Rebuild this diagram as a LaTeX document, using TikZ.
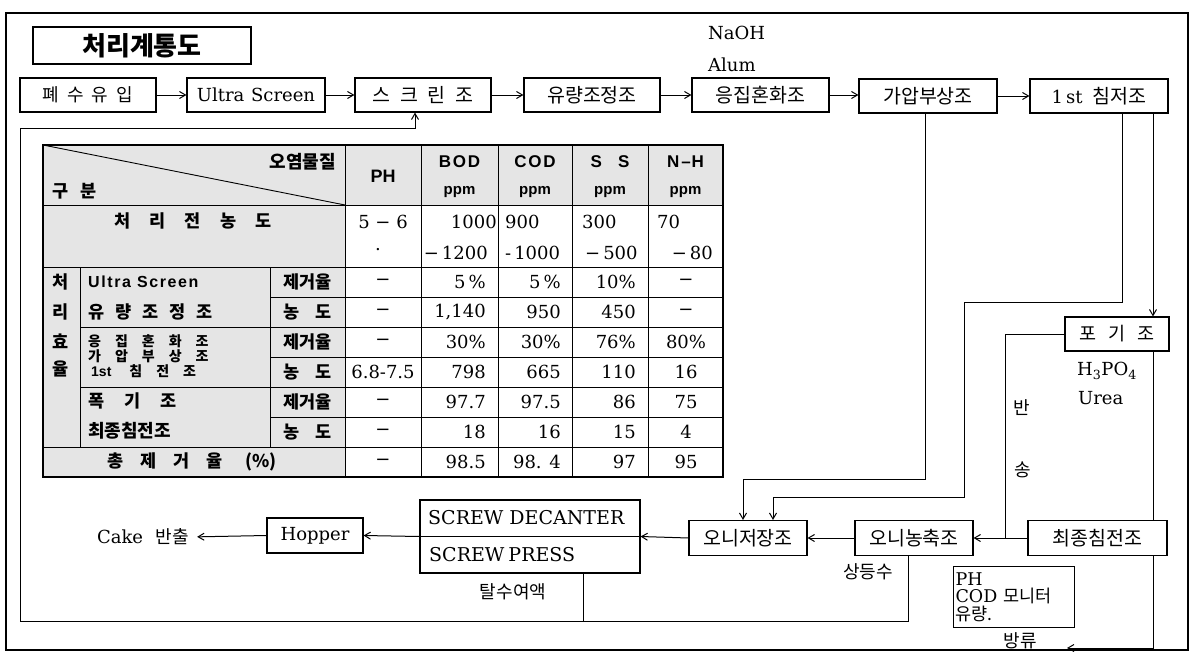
\documentclass[tikz,border=0pt]{standalone}
\usepackage{fontspec}
\usetikzlibrary{arrows.meta,calc}
\setmainfont{DejaVu Serif}
\newfontfamily\kr{Noto Sans CJK KR}
\newfontfamily\sfb{Liberation Sans}[LetterSpace=10]
\newfontfamily\sfn{Liberation Sans}
\newcommand\fsz[1]{\fontsize{#1}{#1}\selectfont}
\begin{document}
\begin{tikzpicture}[x=1pt,y=-1pt,
  box/.style={draw,line width=1.1pt,inner sep=0pt,minimum height=34pt,font=\kr\fsz{19.5}},
  arr/.style={line width=1pt,-{Straight Barb[length=6pt,width=7pt]}},
  ln/.style={line width=1pt},
  lab/.style={inner sep=0pt,font=\fsz{18}},
  klab/.style={inner sep=0pt,font=\kr\fsz{18}},
  tk/.style={inner sep=0pt,font=\kr\bfseries\fsz{17.5}},
  tv/.style={inner sep=0pt,font=\fsz{18}},
  tl/.style={line width=0.9pt},
]
\useasboundingbox (0,0) rectangle (1195,653);
\draw[line width=1.2pt] (6,13) rectangle (1188,650);

% ---------- title ----------
\node[draw,line width=1.3pt,minimum width=218pt,minimum height=37pt] (title) at (142,45.5) {\kr\bfseries\fsz{26}처리계통도};

% ---------- top row ----------
\node[box,minimum width=136pt,font=\kr\fsz{18}] (a1) at (88,95) {폐\hspace{8pt}수\hspace{8pt}유\hspace{8pt}입};
\node[box,minimum width=138pt,font=\fsz{18}] (a2) at (256,95) {Ultra\hspace{1pt} Screen};
\node[box,minimum width=136pt] (a3) at (423,95) {스\hspace{10pt}크\hspace{10pt}린\hspace{10pt}조};
\node[box,minimum width=136pt] (a4) at (592,95) {유량조정조};
\node[box,minimum width=137pt] (a5) at (760.5,95) {응집혼화조};
\node[box,minimum width=138pt] (a6) at (928,96) {가압부상조};
\node[box,minimum width=138pt] (a7) at (1099,96) {\rmfamily\fsz{18}1\,st {\kr\fsz{19.5} 침저조}};
\draw[arr] (a1) -- (a2);
\draw[arr] (a2) -- (a3);
\draw[arr] (a3) -- (a4);
\draw[arr] (a4) -- (a5);
\draw[arr] (a5.east) -- (a6.west |- a5.east);
\draw[arr] (a6) -- (a7);
\node[lab,anchor=west] (naoh) at (708,33) {NaOH};
\node[lab,anchor=west] (alum) at (708,65) {Alum};

% ---------- right side ----------
\node[box,minimum width=104pt,minimum height=34pt,font=\kr\fsz{18.5}] (pg) at (1117,334) {포\hspace{12pt}기\hspace{12pt}조};
\node[box,minimum width=139pt,minimum height=35pt] (fin) at (1097.5,538) {최종침전조};
\node[box,minimum width=118pt,minimum height=35pt] (thick) at (914,538) {오니농축조};
\node[box,minimum width=118pt,minimum height=35pt] (oj) at (748,538) {오니저장조};
\node[draw,line width=1.1pt,minimum width=220pt,minimum height=73pt,inner sep=0pt] (sp) at (530,536.5) {};
\draw[line width=1.1pt] (sp.west) -- (sp.east);
\node[lab,anchor=west,font=\fsz{19}] (sd) at (428,518) {SCREW DECANTER};
\node[lab,anchor=west,font=\fsz{19}] (sr) at (429,555) {SCREW\hspace{-2pt} PRESS};
\node[box,minimum width=96pt,minimum height=35pt,font=\fsz{18}] (hop) at (315,535.5) {Hopper};
\node[lab,font=\fsz{18}] (cake) at (143,537) {Cake\hspace{3pt} {\kr\fsz{18} 반출}};
\node[draw,line width=1.1pt,anchor=north west,minimum width=121pt,minimum height=61pt,inner sep=1.5pt,text width=117pt,align=left,font=\fontsize{17.5}{17.5}\selectfont] (mon) at (953,566) {PH\\COD {\kr 모니터}\\{\kr 유량.}};

\node[lab,anchor=west] (h3po4) at (1077,371) {H\textsubscript{3}PO\textsubscript{4}};
\node[lab,anchor=west] (urea) at (1078,398) {Urea};
\node[klab] (ban) at (1022,408) {반};
\node[klab] (song) at (1023,470) {송};
\node[klab] (sang) at (868,572) {상등수};
\node[klab] (tal) at (513,592) {탈수여액};
\node[klab] (bang) at (1020,641) {방류};

% connectors
\coordinate (r1) at (1122,302);
\coordinate (r2) at (964,302);
\coordinate (r3) at (964,497);
\coordinate (r4) at (773,497);
\draw[arr] (a7.south -| r1) -- (r1) -- (r2) -- (r3) -- (r4) -- (oj.north -| r4);
\coordinate (s1) at (925,479);
\coordinate (s2) at (743,479);
\draw[arr] (a6.south -| s1) -- (s1) -- (s2) -- (oj.north -| s2);
\coordinate (b1) at (1153,200);
\draw[arr] (a7.south -| b1) -- (pg.north -| b1);
\draw[ln] (pg.south -| b1) -- (fin.north -| b1);
\coordinate (rt1) at (1005,334);
\coordinate (rt2) at (1005,538);
\draw[ln] (pg.west) -- (rt1) -- (rt2);
\draw[arr] (fin.west) -- (thick.east);
\draw[arr] (thick.west) -- (oj.east);
\draw[arr] (oj.west) -- (sp.east);
\draw[arr] (sp.west) -- (hop.east);
\draw[arr,shorten >=8pt] (hop.west) -- (cake.east);
\coordinate (d1) at (1153,648);
\coordinate (d2) at (1067,648);
\draw[arr] (fin.south -| d1) -- (d1) -- (d2);
\coordinate (c0) at (20,621);
\coordinate (c1) at (20,128);
\coordinate (c2) at (415,128);
\coordinate (j1) at (583,621);
\coordinate (j2) at (908,621);
\draw[arr] (sp.south -| j1) -- (j1) -- (c0) -- (c1) -- (c2) -- (a3.south -| c2);
\draw[ln] (thick.south -| j2) -- (j2) -- (j1);

% ---------- table ----------
\fill[gray!20] (43,145) rectangle (723,205);
\fill[gray!20] (43,205) rectangle (345,477);
\draw[tl] (43,205) -- (723,205);
\draw[tl] (43,267) -- (723,267);
\draw[tl] (80,327) -- (723,327);
\draw[tl] (80,387) -- (723,387);
\draw[tl] (43,447) -- (723,447);
\draw[tl] (270,297) -- (723,297);
\draw[tl] (270,357) -- (723,357);
\draw[tl] (270,417) -- (723,417);
\draw[tl] (80,267) -- (80,447);
\draw[tl] (270,267) -- (270,447);
\foreach \xx in {345,421,498,572,648} {\draw[tl] (\xx,145) -- (\xx,477);}
\draw[tl] (43,145) -- (345,205);
\draw[line width=1.5pt] (43,145) rectangle (723,477);

\node[tk,anchor=east,font=\kr\bfseries\fsz{18}] (h0) at (336,162) {오염물질};
\node[tk,anchor=west] (h1) at (52,191) {구\hspace{12pt}분};
\node[inner sep=0pt,font=\sfn\bfseries\fsz{18}] (hph) at (383,176) {PH};
\node[inner sep=0pt,font=\sfb\bfseries\fsz{17}] (hb) at (459.5,162) {BOD};
\node[inner sep=0pt,font=\sfb\bfseries\fsz{17}] (hc) at (535,162) {COD};
\node[inner sep=0pt,font=\sfb\bfseries\fsz{17}] (hs) at (610,162) {S\hspace{16pt}S};
\node[inner sep=0pt,font=\sfn\bfseries\fsz{17}] (hn) at (685.5,162) {N\hspace{2pt}–\hspace{1pt}H};
\foreach \xx/\nm in {459.5/pb,535/pc,610/ps,685.5/pn} {\node[inner sep=0pt,font=\sfn\bfseries\fsz{15}] (\nm) at (\xx,192) {ppm};}

\node[tk] (pre) at (193,221) {처\hspace{19pt}리\hspace{19pt}전\hspace{19pt}농\hspace{19pt}도};
\node[tv] (v01) at (383,222) {5 − 6};
\node[tv] (v02) at (378,250) {.};
\node[tv,anchor=east] (v03) at (497,222) {1000};
\node[tv,anchor=east] (v04) at (488,253) {−\,1200};
\node[tv,anchor=west] (v05) at (505,222) {900};
\node[tv,anchor=west] (v06) at (505,253) {-\,1000};
\node[tv,anchor=west] (v07) at (582,222) {300};
\node[tv,anchor=west] (v08) at (585,253) {−\,500};
\node[tv,anchor=west] (v09) at (657,222) {70};
\node[tv,anchor=east] (v10) at (713,253) {−\,80};

\node[tk] (k1) at (61,282) {처};
\node[tk] (k2) at (61,312) {리};
\node[tk] (k3) at (61,341) {효};
\node[tk] (k4) at (61,369) {율};
\node[inner sep=0pt,anchor=west,font=\sfb\bfseries\fsz{16}] (l1) at (88,282) {Ultra Screen};
\node[tk,anchor=west] (l2) at (88,312) {유\hspace{11pt}량\hspace{11pt}조\hspace{11pt}정\hspace{11pt}조};
\node[inner sep=0pt,anchor=west,align=left,font=\kr\bfseries\fontsize{14}{15}\selectfont] (l3) at (88,356) {응\hspace{14pt}집\hspace{14pt}혼\hspace{14pt}화\hspace{14pt}조\\가\hspace{14pt}압\hspace{14pt}부\hspace{14pt}상\hspace{14pt}조\\\hspace{3pt}{\sfn\bfseries 1st}\hspace{18pt}침\hspace{14pt}전\hspace{14pt}조};
\node[tk,anchor=west] (l4) at (88,401) {폭\hspace{20pt}기\hspace{20pt}조};
\node[tk,anchor=west,font=\kr\bfseries\fsz{18}] (l5) at (88,431) {최종침전조};
\node[tk] (tot) at (192,462) {총\hspace{17pt}제\hspace{17pt}거\hspace{17pt}율\hspace{22pt}(\%)};
\foreach \yy/\tt [count=\i] in {282/제거율,312/농\hspace{16pt}도,342/제거율,372/농\hspace{16pt}도,402/제거율,432/농\hspace{16pt}도}
  {\node[tk] (m\i) at (307.5,\yy) {\tt};}

\foreach \yy/\p/\b/\c/\s/\n [count=\i] in {
  282/−/5\,\%/5\,\%/10\%/−,
  312/−/{1,140}/950/450/−,
  342/−/30\%/30\%/76\%/80\%,
  372/6.8-7.5/798/665/110/16,
  402/−/97.7/97.5/86/75,
  432/−/18/16/15/4,
  462/−/98.5/98. 4/97/95}
{
  \node[tv] (p\i) at (383,\yy) {\p};
  \node[tv,anchor=east] (b\i) at (486,\yy) {\b};
  \node[tv,anchor=east] (c\i) at (561,\yy) {\c};
  \node[tv,anchor=east] (s\i) at (636,\yy) {\s};
  \node[tv] (n\i) at (686,\yy) {\n};
}
\end{tikzpicture}
\end{document}
